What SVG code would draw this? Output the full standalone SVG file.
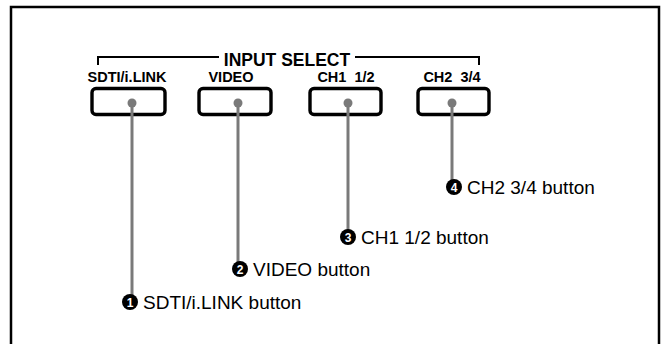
<svg xmlns="http://www.w3.org/2000/svg" width="664" height="344" viewBox="0 0 664 344">
<style>
.frame{fill:none;stroke:#000;stroke-width:2.5}
.btn{fill:#fff;stroke:#000;stroke-width:3.4}
.lbl{font-family:"Liberation Sans",Arial,sans-serif;font-weight:bold;font-size:14.5px;fill:#000;text-anchor:middle}
.title{font-family:"Liberation Sans",Arial,sans-serif;font-weight:bold;font-size:17.5px;fill:#000;text-anchor:middle}
.br{fill:none;stroke:#000;stroke-width:2}
.lead{fill:none;stroke:#7a7a7a;stroke-width:3}
.dot{fill:#7a7a7a}
.num{fill:#000}
.numt{font-family:"Liberation Sans",Arial,sans-serif;font-weight:bold;font-size:12px;fill:#fff;text-anchor:middle}
.call{font-family:"Liberation Sans",Arial,sans-serif;font-size:19px;fill:#000}
</style>
<rect x="0" y="0" width="664" height="344" fill="#fff"/>
<path class="frame" d="M11,344 V7 H659 V344"/>
<g id="bracket">
<path class="br" d="M98,65 V57 H219 M355,57 H479 V65"/>
<text class="title" x="287" y="66">INPUT SELECT</text>
</g>
<g id="btn1">
<text class="lbl" x="127" y="82">SDTI/i.LINK</text>
<rect class="btn" x="92" y="88.5" width="73" height="26" rx="4"/>
</g>
<g id="btn2">
<text class="lbl" x="231" y="82">VIDEO</text>
<rect class="btn" x="199" y="88.5" width="72" height="26" rx="4"/>
</g>
<g id="btn3">
<text class="lbl" x="346" y="82" xml:space="preserve">CH1  1/2</text>
<rect class="btn" x="310" y="88.5" width="71" height="26" rx="4"/>
</g>
<g id="btn4">
<text class="lbl" x="452" y="82" xml:space="preserve">CH2  3/4</text>
<rect class="btn" x="418" y="88.5" width="71" height="26" rx="4"/>
</g>
<g id="connectors">
<circle class="dot" cx="132" cy="103" r="4.5"/>
<line class="lead" x1="132" y1="103" x2="132" y2="296"/>
<circle class="dot" cx="238" cy="103" r="4.5"/>
<line class="lead" x1="238" y1="103" x2="238" y2="264"/>
<circle class="dot" cx="348" cy="103" r="4.5"/>
<line class="lead" x1="348" y1="103" x2="348" y2="232"/>
<circle class="dot" cx="452" cy="103" r="4.5"/>
<line class="lead" x1="452" y1="103" x2="452" y2="182"/>
</g>
<g id="callout1">
<circle class="num" cx="130" cy="302" r="8"/>
<text class="numt" x="130" y="306.5">1</text>
<text class="call" x="143" y="309">SDTI/i.LINK button</text>
</g>
<g id="callout2">
<circle class="num" cx="240" cy="269" r="8"/>
<text class="numt" x="240" y="273.5">2</text>
<text class="call" x="253" y="276">VIDEO button</text>
</g>
<g id="callout3">
<circle class="num" cx="348" cy="237" r="8"/>
<text class="numt" x="348" y="241.5">3</text>
<text class="call" x="361" y="244">CH1 1/2 button</text>
</g>
<g id="callout4">
<circle class="num" cx="454" cy="187" r="8"/>
<text class="numt" x="454" y="191.5">4</text>
<text class="call" x="467" y="194">CH2 3/4 button</text>
</g>
</svg>
